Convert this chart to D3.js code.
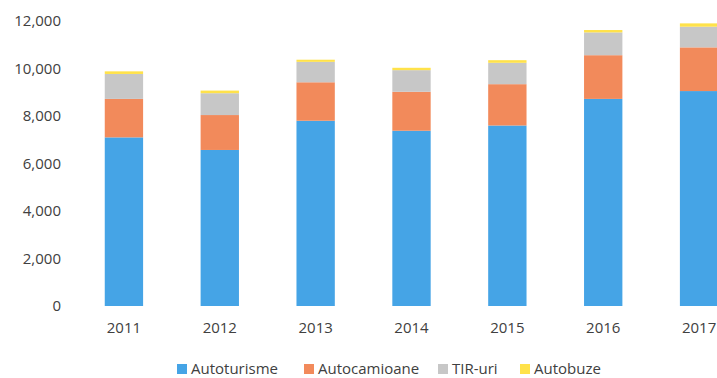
<!DOCTYPE html>
<html>
<head>
<meta charset="utf-8">
<script src="https://cdn.jsdelivr.net/npm/d3@7"></script>
<style>
  html, body { margin: 0; padding: 0; background: #fff; }
  svg { display: block; font-family: "Open Sans", "Noto Sans", sans-serif; }
</style>
</head>
<body>
<svg id="chart" width="717" height="378"></svg>
<script>
// Vehicle fleet by type, 2011–2017
const years = ["2011", "2012", "2013", "2014", "2015", "2016", "2017"];
const seriesNames = ["Autoturisme", "Autocamioane", "TIR-uri", "Autobuze"];
const autoturisme  = [7100, 6570, 7800, 7380, 7600, 8720, 9050];
const autocamioane = [1620, 1470, 1620, 1640, 1740, 1840, 1840];
const tirUri       = [1050,  920,  860,  910,  900,  960,  870];
const autobuze     = [ 110,  110,   90,  100,  110,  100,  140];
const yTicks = [0, 2000, 4000, 6000, 8000, 10000, 12000];
const colors = ["#45a4e6", "#f28a5b", "#c7c7c7", "#ffe24a"];

const table = years.map((y, i) => ({
  year: y,
  "Autoturisme": autoturisme[i],
  "Autocamioane": autocamioane[i],
  "TIR-uri": tirUri[i],
  "Autobuze": autobuze[i]
}));

const svg = d3.select("#chart");

const x = d3.scaleBand()
  .domain(years)
  .range([76, 747])
  .paddingInner(0.6)
  .paddingOuter(0.3);

const y = d3.scaleLinear()
  .domain([0, 12000])
  .range([306, 21]);

const color = d3.scaleOrdinal().domain(seriesNames).range(colors);

const stacked = d3.stack().keys(seriesNames)(table);

// stacked bars
svg.append("g")
  .selectAll("g")
  .data(stacked)
  .join("g")
  .attr("fill", d => color(d.key))
  .selectAll("rect")
  .data(d => d)
  .join("rect")
  .attr("x", d => x(d.data.year))
  .attr("width", x.bandwidth())
  .attr("y", d => y(d[1]))
  .attr("height", d => y(d[0]) - y(d[1]));

// value axis
const yAxis = svg.append("g")
  .attr("transform", "translate(61,0)")
  .call(d3.axisLeft(y).tickValues(yTicks).tickFormat(d3.format(",")).tickSize(0).tickPadding(0));
yAxis.select(".domain").remove();
yAxis.selectAll("text")
  .attr("font-size", 15)
  .attr("font-family", "'Open Sans', 'Noto Sans', sans-serif")
  .attr("fill", "#404040");

// category axis
const xAxis = svg.append("g")
  .attr("transform", "translate(0,306)")
  .call(d3.axisBottom(x).tickSize(0).tickPadding(16));
xAxis.select(".domain").remove();
xAxis.selectAll("text")
  .attr("font-size", 15)
  .attr("font-family", "'Open Sans', 'Noto Sans', sans-serif")
  .attr("fill", "#404040");

// legend
const legendX = [177, 304, 438, 520];
const legend = svg.append("g")
  .selectAll("g")
  .data(seriesNames)
  .join("g")
  .attr("transform", (d, i) => `translate(${legendX[i]},369)`);
legend.append("rect")
  .attr("x", 0).attr("y", -5)
  .attr("width", 10).attr("height", 10)
  .attr("fill", d => color(d));
legend.append("text")
  .attr("x", 14)
  .attr("dy", "0.35em")
  .attr("font-size", 15)
  .attr("fill", "#404040")
  .text(d => d);
</script>
</body>
</html>
